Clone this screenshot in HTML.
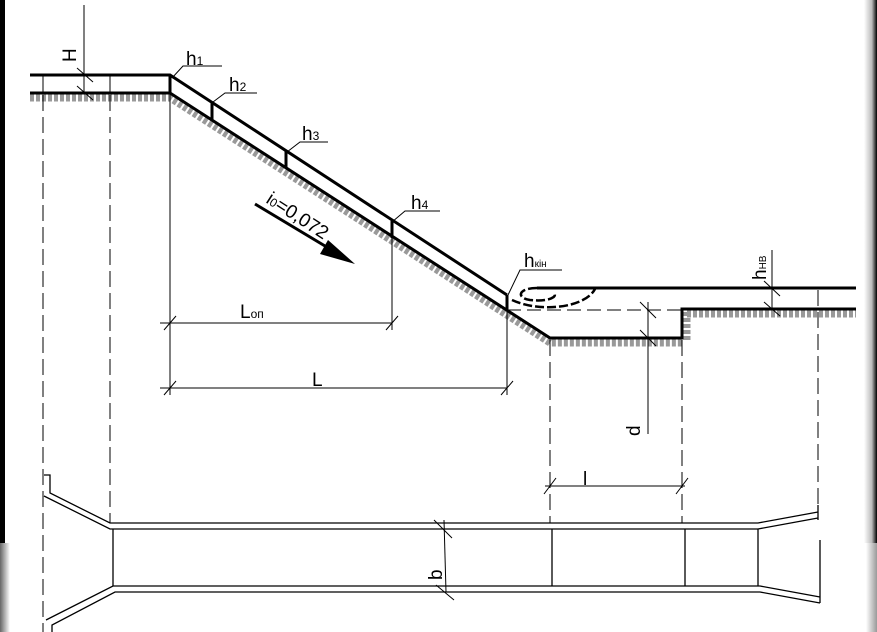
<!DOCTYPE html>
<html><head><meta charset="utf-8"><style>
html,body{margin:0;padding:0;background:#fff}
svg{display:block}
text{font-family:"Liberation Sans",sans-serif;fill:#000}
</style></head><body>
<svg width="877" height="632" viewBox="0 0 877 632" xmlns="http://www.w3.org/2000/svg">
<defs>
<linearGradient id="gr" x1="0" x2="1"><stop offset="0" stop-color="#fff"/><stop offset="0.6" stop-color="#bbb"/><stop offset="1" stop-color="#000"/></linearGradient>
<linearGradient id="gr2" x1="0" x2="1"><stop offset="0" stop-color="#fff"/><stop offset="1" stop-color="#999"/></linearGradient>
<linearGradient id="gl2" x1="0" x2="1"><stop offset="0" stop-color="#666"/><stop offset="1" stop-color="#fff"/></linearGradient>
</defs>
<rect width="877" height="632" fill="#fff"/>
<rect x="0" y="0" width="5" height="543" fill="#000"/>
<rect x="0" y="543" width="10" height="89" fill="url(#gl2)"/>
<rect x="864" y="0" width="13" height="543" fill="url(#gr)"/>
<rect x="866" y="543" width="11" height="89" fill="url(#gr2)"/>

<g stroke="#999" stroke-width="7" fill="none" stroke-dasharray="4,2">
<polyline points="30,98 170,98 550,343 682,343"/>
<polyline points="687,314 856,314"/>
<line x1="687" y1="312" x2="687" y2="340"/>
</g>

<g stroke="#000" stroke-width="3" fill="none">
<polyline points="30,75 170,75 507,295"/>
<polyline points="30,93 170,93 550,338 682,338 682,309 856,309"/>
<line x1="537" y1="288" x2="856" y2="288"/>
<line x1="170" y1="75" x2="170" y2="93"/>
<line x1="212" y1="102" x2="212" y2="120"/>
<line x1="286" y1="151" x2="286" y2="168"/>
<line x1="392" y1="221" x2="392" y2="238"/>
<line x1="507" y1="295" x2="507" y2="310"/>
<line x1="255" y1="204" x2="335" y2="252"/>
</g>
<polygon points="355,264 328,240 320,254" fill="#000"/>
<g stroke="#000" stroke-width="2.5" fill="none" stroke-dasharray="9,3">
<path d="M537,288 C518,288 516,298 530,300 C548,302 558,297 554,293"/>
<path d="M512,300 C540,313 585,308 595,289"/>
</g>
<line x1="507" y1="310" x2="683" y2="310" stroke="#000" stroke-width="1" stroke-dasharray="14,6"/>

<g stroke="#000" stroke-width="1" fill="none">
<line x1="84" y1="5" x2="84" y2="93"/>
<line x1="77" y1="68" x2="93" y2="82"/><line x1="77" y1="86" x2="93" y2="100"/>
<line x1="43" y1="75" x2="43" y2="93"/><line x1="110" y1="75" x2="110" y2="93"/>
<line x1="170" y1="93" x2="170" y2="395"/>
<line x1="392" y1="238" x2="392" y2="330"/>
<line x1="507" y1="310" x2="507" y2="395"/>
<line x1="160" y1="323" x2="392" y2="323"/>
<line x1="164" y1="330" x2="176" y2="316"/><line x1="386" y1="330" x2="398" y2="316"/>
<line x1="160" y1="388" x2="507" y2="388"/>
<line x1="164" y1="395" x2="176" y2="381"/><line x1="501" y1="395" x2="513" y2="381"/>
<line x1="648" y1="302" x2="648" y2="434"/>
<line x1="640" y1="302" x2="656" y2="318"/><line x1="640" y1="330" x2="656" y2="346"/>
<line x1="772" y1="250" x2="772" y2="310"/>
<line x1="764" y1="281" x2="780" y2="296"/><line x1="764" y1="302" x2="780" y2="316"/>
<line x1="545" y1="486" x2="685" y2="486"/>
<line x1="544" y1="494" x2="556" y2="478"/><line x1="676" y1="494" x2="688" y2="478"/>
<polyline points="172,78 183,66 222,66"/>
<polyline points="213,102 225,93 257,93"/>
<polyline points="287,152 300,142 328,142"/>
<polyline points="392,222 405,211 440,211"/>
<polyline points="508,295 520,270 562,270"/>
</g>
<g stroke="#000" stroke-width="1" stroke-dasharray="16,6" fill="none">
<line x1="43" y1="95" x2="43" y2="632"/>
<line x1="110" y1="95" x2="110" y2="523"/>
<line x1="550" y1="340" x2="550" y2="523"/>
<line x1="682" y1="340" x2="682" y2="523"/>
<line x1="818" y1="290" x2="818" y2="512"/>
</g>

<g stroke="#000" stroke-width="1.3" fill="none">
<polyline points="44,475 50,475 50,493 110,523 758,523 818,512"/>
<polyline points="44,496 110,529 758,529 818,518"/>
<polyline points="46,620 113,586 760,586 820,597"/>
<polyline points="52,632 52,625 115,592 760,592 820,603"/>
<line x1="818" y1="505" x2="818" y2="520"/>
<line x1="820" y1="540" x2="820" y2="603"/>
<line x1="113" y1="529" x2="113" y2="586"/>
<line x1="552" y1="529" x2="552" y2="586"/>
<line x1="685" y1="529" x2="685" y2="586"/>
<line x1="758" y1="529" x2="758" y2="586"/>
</g>
<g stroke="#000" stroke-width="1" fill="none">
<line x1="444" y1="520" x2="446" y2="592"/>
<line x1="434" y1="520" x2="452" y2="538"/><line x1="436" y1="585" x2="454" y2="600"/>
</g>

<g font-size="19">
<text transform="translate(76,62) rotate(-90)">H</text>
<text x="186" y="65">h<tspan font-size="12">1</tspan></text>
<text x="229" y="91">h<tspan font-size="12">2</tspan></text>
<text x="302" y="140">h<tspan font-size="12">3</tspan></text>
<text x="411" y="209">h<tspan font-size="12">4</tspan></text>
<text x="524" y="267">h<tspan font-size="10">кін</tspan></text>
<text transform="translate(766,280) rotate(-90)">h<tspan font-size="10">НВ</tspan></text>
<text x="240" y="318">L<tspan font-size="12">оп</tspan></text>
<text x="312" y="386">L</text>
<text transform="translate(640,436) rotate(-90)">d</text>
<text x="583" y="485">l</text>
<text transform="translate(442,580) rotate(-90)">b</text>
<text transform="translate(265,202) rotate(33)">i<tspan font-size="12">0</tspan>=0,072</text>
</g>
</svg>
</body></html>
